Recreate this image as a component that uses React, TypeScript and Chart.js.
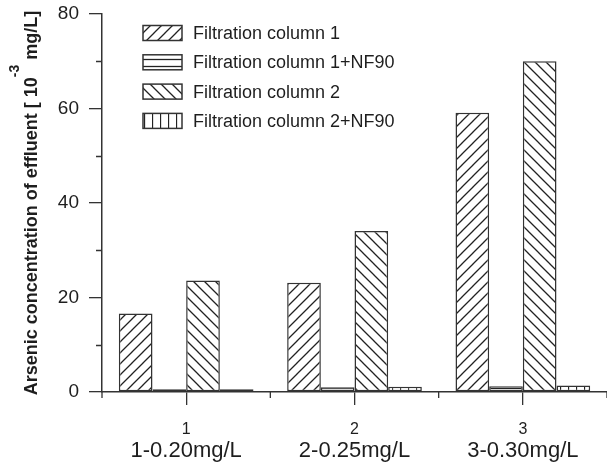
import React, { useEffect, useRef } from "react";
import { Chart, registerables } from "chart.js";

Chart.register(...registerables);

const categories = ["1", "2", "3"];
const subLabels = ["1-0.20mg/L", "2-0.25mg/L", "3-0.30mg/L"];
const seriesNames = [
  "Filtration column 1",
  "Filtration column 1+NF90",
  "Filtration column 2",
  "Filtration column 2+NF90",
];
const column1 = [16.6, 23.1, 59.1];
const column1NF = [0.6, 1.0, 1.2];
const column2 = [23.6, 34.1, 70.0];
const column2NF = [0.6, 1.1, 1.4];
const yTicks = [0, 20, 40, 60, 80];
const yMinorTicks = [10, 30, 50, 70];

const INK = "#1e1e1e";
const FONT = "'Liberation Sans', Arial, Helvetica, sans-serif";

function makePattern(kind: string): CanvasPattern | string {
  const c = document.createElement("canvas");
  let w = 11, h = 11;
  if (kind === "h") { w = 8; h = 7; }
  if (kind === "v") { w = 8; h = 8; }
  c.width = w; c.height = h;
  const g = c.getContext("2d")!;
  g.fillStyle = "#ffffff";
  g.fillRect(0, 0, w, h);
  g.strokeStyle = "#222";
  g.lineWidth = 1.3;
  g.beginPath();
  if (kind === "f") {
    g.moveTo(-2, h + 2); g.lineTo(w + 2, -2);
    g.moveTo(-2, 2); g.lineTo(2, -2);
    g.moveTo(w - 2, h + 2); g.lineTo(w + 2, h - 2);
  } else if (kind === "b") {
    g.moveTo(-2, -2); g.lineTo(w + 2, h + 2);
    g.moveTo(-2, h - 2); g.lineTo(2, h + 2);
    g.moveTo(w - 2, -2); g.lineTo(w + 2, 2);
  } else if (kind === "h") {
    g.moveTo(0, 3.5); g.lineTo(w, 3.5);
  } else {
    g.moveTo(0.5, 0); g.lineTo(0.5, h);
  }
  g.stroke();
  const p = g.createPattern(c, "repeat");
  return p || "#fff";
}

const minorTicksPlugin = {
  id: "minorTicks",
  afterDraw(chart: any) {
    const ctx = chart.ctx;
    const y = chart.scales.y;
    const x = chart.scales.x;
    ctx.save();
    ctx.strokeStyle = "#333";
    ctx.lineWidth = 1.3;
    ctx.beginPath();
    for (const v of yMinorTicks) {
      const py = Math.round(y.getPixelForValue(v)) + 0.5;
      ctx.moveTo(y.right - 6, py);
      ctx.lineTo(y.right, py);
    }
    const half = (x.getPixelForValue(1) - x.getPixelForValue(0)) / 2;
    for (let i = 0; i <= categories.length; i++) {
      const px = x.getPixelForValue(0) - half + i * 2 * half;
      ctx.moveTo(px, x.top);
      ctx.lineTo(px, x.top + 6);
    }
    ctx.stroke();
    ctx.restore();
  },
};

const legendPlugin = {
  id: "innerLegend",
  afterDraw(chart: any) {
    const ctx = chart.ctx;
    ctx.save();
    chart.data.datasets.forEach((ds: any, i: number) => {
      const cy = 33 + i * 29.3;
      const bx = 143, bw = 39, bh = 15;
      ctx.fillStyle = ds.backgroundColor;
      ctx.fillRect(bx, cy - bh / 2, bw, bh);
      ctx.strokeStyle = "#333";
      ctx.lineWidth = 1.5;
      ctx.strokeRect(bx, cy - bh / 2, bw, bh);
      ctx.fillStyle = INK;
      ctx.font = `18px ${FONT}`;
      ctx.textBaseline = "middle";
      ctx.textAlign = "left";
      ctx.fillText(ds.label, 193, cy + 1);
    });
    ctx.restore();
  },
};

const yTitlePlugin = {
  id: "yTitle",
  afterDraw(chart: any) {
    const ctx = chart.ctx;
    const area = chart.chartArea;
    const main1 = "Arsenic concentration of effluent [ 10";
    const sup = "-3";
    const main2 = " mg/L]";
    ctx.save();
    ctx.fillStyle = INK;
    ctx.textBaseline = "alphabetic";
    ctx.textAlign = "left";
    const big = `bold 18px ${FONT}`;
    const small = `bold 14px ${FONT}`;
    ctx.font = big;
    const w1 = ctx.measureText(main1).width;
    const w3 = ctx.measureText(main2).width;
    ctx.font = small;
    const w2 = ctx.measureText(sup).width;
    const total = w1 + w2 + w3;
    const cy = (area.top + area.bottom) / 2;
    ctx.translate(37, cy);
    ctx.rotate(-Math.PI / 2);
    let x0 = -total / 2;
    ctx.font = big;
    ctx.fillText(main1, x0, 0);
    x0 += w1;
    ctx.font = small;
    ctx.fillText(sup, x0, -18);
    x0 += w2;
    ctx.font = big;
    ctx.fillText(main2, x0, 0);
    ctx.restore();
  },
};

export default function App() {
  const ref = useRef<HTMLCanvasElement | null>(null);
  useEffect(() => {
    document.body.style.margin = "0";
    const canvas = ref.current!;
    const patterns = [makePattern("f"), makePattern("h"), makePattern("b"), makePattern("v")];
    const values = [column1, column1NF, column2, column2NF];
    const chart = new Chart(canvas, {
      type: "bar",
      data: {
        labels: categories,
        datasets: values.map((v, i) => ({
          label: seriesNames[i],
          data: v,
          backgroundColor: patterns[i] as any,
          borderColor: "#333",
          borderWidth: 1.5,
          borderSkipped: false,
          categoryPercentage: 0.8,
          barPercentage: 1.0,
          xAxisID: "x",
        })),
      },
      options: {
        responsive: false,
        animation: false,
        layout: { padding: { top: 14, left: 0, right: 0, bottom: 0 } },
        plugins: { legend: { display: false }, tooltip: { enabled: false } },
        scales: {
          y: {
            min: 0,
            max: 80,
            afterBuildTicks: (s: any) => { s.ticks = yTicks.map((v) => ({ value: v })); },
            afterFit: (s: any) => { s.width = 102; s.paddingTop = 0; s.paddingBottom = 0; },
            border: { display: true, color: "#333", width: 1.5 },
            grid: { drawOnChartArea: false, tickLength: 13, color: "#333", lineWidth: 1.3 },
            ticks: { color: INK, font: { size: 19, family: FONT }, padding: 10 },
          },
          x: {
            position: "bottom",
            afterFit: (s: any) => { s.height = 46; s.paddingLeft = 0; s.paddingRight = 0; },
            border: { display: true, color: "#333", width: 1.5 },
            grid: { drawOnChartArea: false, offset: false, tickLength: 13, color: "#333", lineWidth: 1.3 },
            ticks: { color: INK, font: { size: 16, family: FONT }, padding: 15 },
          },
          x2: {
            type: "category",
            position: "bottom",
            labels: subLabels,
            afterFit: (s: any) => { s.height = 24; s.paddingLeft = 0; s.paddingRight = 0; },
            border: { display: false },
            grid: { display: false, drawTicks: false },
            ticks: { color: INK, font: { size: 22, family: FONT }, padding: 0 },
          },
        },
      },
      plugins: [minorTicksPlugin, legendPlugin, yTitlePlugin],
    } as any);
    return () => chart.destroy();
  }, []);
  return (
    <div style={{ width: 607, height: 462 }}>
      <canvas ref={ref} width={607} height={462} />
    </div>
  );
}
